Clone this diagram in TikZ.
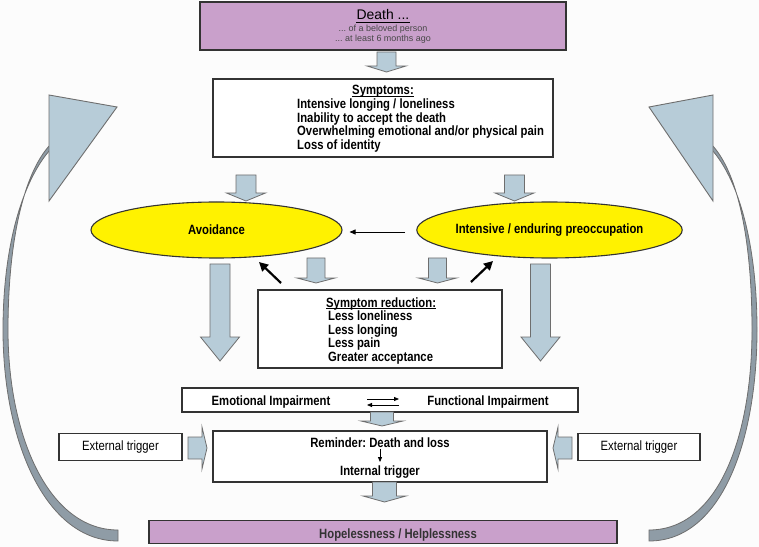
\documentclass[tikz,border=0pt]{standalone}
\usepackage{fontspec}
\setmainfont{Liberation Sans}
\newfontfamily\nar[FakeStretch=0.84]{Liberation Sans}
\usetikzlibrary{arrows.meta,shapes.geometric}
\frenchspacing
\definecolor{lilac}{HTML}{C9A0CB}
\definecolor{blkfill}{HTML}{B7CCD8}
\definecolor{shaftfill}{HTML}{8F9CA6}
\definecolor{edgecol}{HTML}{333333}
\definecolor{arrowedge}{HTML}{6E6E6E}
\definecolor{smallgray}{HTML}{484848}
\definecolor{bgcol}{HTML}{FCFCFC}
\definecolor{ellyellow}{HTML}{FFF200}
\newcommand{\bdn}[6]{\filldraw[blockarrow] ({#1-#5},#2) -- ({#1+#5},#2) -- ({#1+#5},#3) -- ({#1+#6},#3) -- (#1,#4) -- ({#1-#6},#3) -- ({#1-#5},#3) -- cycle;}
\newcommand{\bhz}[6]{\filldraw[blockarrow] (#2,{#1-#5}) -- (#3,{#1-#5}) -- (#3,{#1-#6}) -- (#4,#1) -- (#3,{#1+#6}) -- (#3,{#1+#5}) -- (#2,{#1+#5}) -- cycle;}
\tikzset{
  box/.style={draw=edgecol, line width=1.1bp, fill=white, inner sep=0pt},
  ell/.style={ellipse, draw=edgecol, line width=1.1bp, fill=ellyellow, inner sep=0pt, font=\nar\bfseries\fontsize{13.5}{15}\selectfont},
  btxt/.style={inner sep=0pt, font=\nar\bfseries\fontsize{13.5}{15}\selectfont, text=black},
  rtxt/.style={inner sep=0pt, font=\nar\fontsize{13.5}{15}\selectfont, text=black},
  blockarrow/.style={fill=blkfill, draw=arrowedge, line width=0.8bp, line join=miter},
  thinarr/.style={draw=black, line width=0.8bp, -{Triangle[length=6bp,width=5bp]}},
  tinyarr/.style={draw=black, line width=0.8bp, -{Triangle[length=5bp,width=4bp]}},
  thickarr/.style={draw=black, line width=2.2bp, -{Triangle[length=9bp,width=9bp]}},
  ulline/.style={draw=black, line width=0.8bp},
  curvehead/.style={fill=blkfill, draw=arrowedge, line width=0.9bp, line join=miter},
  curveshaft/.style={fill=shaftfill, draw=arrowedge, line width=0.8bp}
}
\begin{document}
\begin{tikzpicture}[x=1bp,y=-1bp]
\useasboundingbox (0,0) rectangle (759,547);
\fill[bgcol] (0,0) rectangle (759,547);

% curved return arrows
\filldraw[curveshaft] (118,541) .. controls (45,541) and (3,440) .. (3,330) .. controls (3,240) and (25,178) .. (50,150) -- (50,145) .. controls (24,173) and (8,240) .. (8,330) .. controls (8,435) and (48,530) .. (118,530) -- cycle;
\filldraw[curvehead] (49,95) -- (117,107) -- (49,201) -- cycle;
\filldraw[curveshaft] (649,541) .. controls (722,541) and (757,440) .. (757,330) .. controls (757,240) and (737,178) .. (712,150) -- (712,145) .. controls (738,173) and (752,240) .. (752,330) .. controls (752,435) and (719,530) .. (649,530) -- cycle;
\filldraw[curvehead] (713,95) -- (649,107) -- (713,201) -- cycle;

% Death box
\node[box, fill=lilac, minimum width=366bp, minimum height=48bp] (death) at (383,26) {};
\node[inner sep=0pt, anchor=base, font=\fontsize{14}{16}\selectfont] (deatht) at (383,20) {Death ...};
\draw[ulline] ([yshift=-2bp]deatht.base west) -- ([yshift=-2bp]deatht.base east);
\node[inner sep=0pt, anchor=base, text=smallgray, font=\fontsize{9}{10}\selectfont] (death1) at (383,32) {... of a beloved person};
\node[inner sep=0pt, anchor=base, text=smallgray, font=\fontsize{9}{10}\selectfont] (death2) at (383,42) {... at least 6 months ago};

\bdn{386.5}{52}{66}{72}{9.5}{19.5}

% Symptoms box
\node[box, minimum width=340bp, minimum height=78bp] (symp) at (383,118) {};
\node[btxt, anchor=base] (sympt) at (383,95) {Symptoms:};
\draw[ulline] ([yshift=-1.8bp]sympt.base west) -- ([yshift=-1.8bp]sympt.base east);
\node[btxt, anchor=base west] (s1) at (297,109) {Intensive longing / loneliness};
\node[btxt, anchor=base west] (s2) at (297,122.5) {Inability to accept the death};
\node[btxt, anchor=base west] (s3) at (297,136) {Overwhelming emotional and/or physical pain};
\node[btxt, anchor=base west] (s4) at (297,149.5) {Loss of identity};

\bdn{246}{175}{193}{201}{10}{19.5}
\bdn{514.5}{175}{193}{201}{10}{19.5}

% Ellipses
\node[ell, minimum width=251bp, minimum height=56bp] (avoid) at (216.5,230) {Avoidance};
\node[ell, minimum width=263bp, minimum height=56bp] (intens) at (549.5,230) {Intensive / enduring preoccupation};
\draw[thinarr, shorten <=11bp, shorten >=7bp] ([yshift=-2bp]intens.west) -- ([yshift=-2bp]avoid.east);

\bdn{316}{258}{278}{283}{9}{19}
\bdn{437.5}{258}{278}{283}{9}{19}
\bdn{220}{264}{337}{361}{10}{19.5}
\bdn{540.5}{264}{337}{361}{10}{19.5}

% Symptom reduction
\node[box, minimum width=244bp, minimum height=78bp] (reduc) at (380,329) {};
\node[btxt, anchor=base west] (rt) at (326,307) {Symptom reduction:};
\draw[ulline] ([yshift=-1.8bp]rt.base west) -- ([yshift=-1.8bp]rt.base east);
\node[btxt, anchor=base west] (r1) at (328,320.5) {Less loneliness};
\node[btxt, anchor=base west] (r2) at (328,334) {Less longing};
\node[btxt, anchor=base west] (r3) at (328,347.5) {Less pain};
\node[btxt, anchor=base west] (r4) at (328,361) {Greater acceptance};
\coordinate (ta1) at (281,283);
\coordinate (ta2) at (471,282);
\draw[thickarr] (ta1) -- (259,262);
\draw[thickarr] (ta2) -- (493,261);

% Impairment
\node[box, minimum width=396bp, minimum height=24bp] (impair) at (380,400) {};
\node[btxt, anchor=base] (emo) at (271,405) {Emotional Impairment};
\node[btxt, anchor=base] (fun) at (488,405) {Functional Impairment};
\coordinate (da1) at (367,399);
\coordinate (da2) at (399,399);
\coordinate (db1) at (399,405);
\coordinate (db2) at (367,405);
\draw[tinyarr] (da1) -- (da2);
\draw[tinyarr] (db1) -- (db2);

\bdn{382}{412}{421}{426}{11.5}{21}

% Reminder
\node[box, minimum width=334bp, minimum height=51bp] (remind) at (380,456.5) {};
\node[btxt, anchor=base] (rem1) at (380,447) {Reminder: Death and loss};
\node[btxt, anchor=base] (rem2) at (380,475) {Internal trigger};
\draw[tinyarr] ([yshift=-2bp]rem1.south) -- ([yshift=3bp]rem2.north);

\bdn{384.5}{482}{496}{502}{12}{21.5}

% External triggers
\node[box, minimum width=123bp, minimum height=27bp, rtxt] (trigL) at (120.5,447) {External trigger};
\node[box, minimum width=122bp, minimum height=27bp, rtxt] (trigR) at (639,447) {External trigger};
\bhz{448}{188}{202}{207}{11}{21}
\bhz{448}{572}{558}{553}{11}{21}

% Hopelessness
\node[box, fill=lilac, minimum width=468bp, minimum height=23bp] (hope) at (383,532) {};
\node[btxt, anchor=base, text=edgecol] (hopet) at (398,538) {Hopelessness / Helplessness};
\end{tikzpicture}
\end{document}
